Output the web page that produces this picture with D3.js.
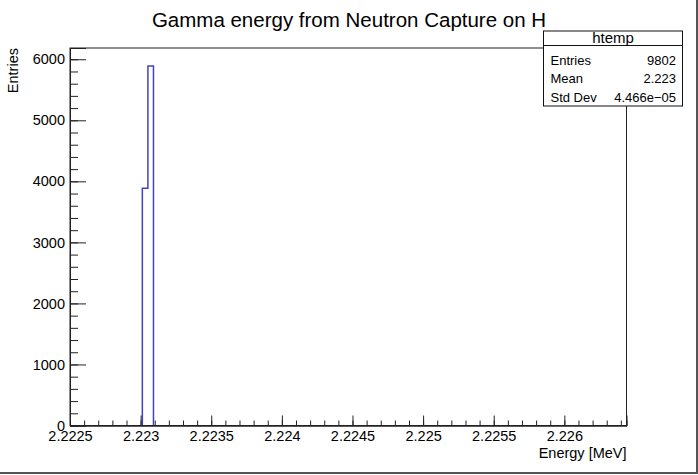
<!DOCTYPE html>
<html>
<head>
<meta charset="utf-8">
<script src="https://cdn.jsdelivr.net/npm/d3@7"></script>
<style>
  html, body { margin: 0; padding: 0; background: #fff; }
  svg { display: block; font-family: "Liberation Sans", Arial, Helvetica, sans-serif; }
</style>
</head>
<body>
<svg id="chart" width="698" height="475"></svg>
<script>
// ---- data ----
const title = "Gamma energy from Neutron Capture on H";
const xTitle = "Energy [MeV]";
const yTitle = "Entries";
const xRange = [2.2225, 2.22644];
const binWidth = 0.0000394;
const binLowEdges = [2.2230122, 2.2230516];
const binCounts = [3887, 5890];
const xTickValues = [2.2225, 2.223, 2.2235, 2.224, 2.2245, 2.225, 2.2255, 2.226];
const xTickLabels = ["2.2225", "2.223", "2.2235", "2.224", "2.2245", "2.225", "2.2255", "2.226"];
const yTickValues = [0, 1000, 2000, 3000, 4000, 5000, 6000];
const statsName = "htemp";
const statsLabels = ["Entries", "Mean", "Std Dev"];
const statsValues = ["9802", "2.223", "4.466e\u221205"];

// ---- layout ----
const svg = d3.select("#chart");
const W = 698, H = 475;
const frame = { left: 70, right: 626.5, top: 48, bottom: 425.5 };
const yMax = d3.max(binCounts) * 1.05;

const x = d3.scaleLinear().domain(xRange).range([frame.left, frame.right]);
const y = d3.scaleLinear().domain([0, yMax]).range([frame.bottom, frame.top]);

// histogram outline
const pts = [];
binLowEdges.forEach((lo, i) => {
  const hi = lo + binWidth;
  if (i === 0) pts.push([x(lo), y(0)]);
  pts.push([x(lo), y(binCounts[i])]);
  pts.push([x(hi), y(binCounts[i])]);
  if (i === binLowEdges.length - 1) pts.push([x(hi), y(0)]);
});
svg.append("path")
  .attr("d", d3.line()(pts))
  .attr("fill", "none")
  .attr("stroke", "#4343c2")
  .attr("stroke-width", 1.5);

// frame
svg.append("rect")
  .attr("x", frame.left).attr("y", frame.top)
  .attr("width", frame.right - frame.left).attr("height", frame.bottom - frame.top)
  .attr("fill", "none").attr("stroke", "#222").attr("stroke-width", 1);

// x axis
const xMinor = d3.range(0, 40).map(i => 2.2225 + i * 0.0001).filter(v => v <= xRange[1] + 1e-9);
const xAxisMinor = d3.axisTop(x).tickValues(xMinor).tickSize(5).tickFormat("");
const gxm = svg.append("g").attr("transform", `translate(0,${frame.bottom})`).call(xAxisMinor);
const xAxis = d3.axisTop(x).tickValues(xTickValues).tickSize(10).tickFormat((d, i) => xTickLabels[i]);
const gx = svg.append("g").attr("transform", `translate(0,${frame.bottom})`).call(xAxis);
[gxm, gx].forEach(g => {
  g.select(".domain").attr("stroke", "#222");
  g.selectAll(".tick line").attr("stroke", "#222");
});
gx.selectAll(".tick text")
  .attr("y", 14).attr("dy", "0")
  .attr("font-size", 14.5).attr("fill", "#000")
  .attr("font-family", "'Liberation Sans', Arial, sans-serif")
  .style("dominant-baseline", "auto")
  .attr("transform", "translate(0,0)")
  .each(function() { d3.select(this).attr("y", 15).attr("dy", "0.71em").attr("dy", "0"); })
  .attr("y", 15 + 0).attr("dominant-baseline", "hanging");

// y axis
const yMinor = d3.range(0, 31).map(i => i * 200).filter(v => v <= yMax);
const yAxisMinor = d3.axisRight(y).tickValues(yMinor).tickSize(8).tickFormat("");
const gym = svg.append("g").attr("transform", `translate(${frame.left},0)`).call(yAxisMinor);
const yAxis = d3.axisRight(y).tickValues(yTickValues).tickSize(16).tickFormat(d3.format("d"));
const gy = svg.append("g").attr("transform", `translate(${frame.left},0)`).call(yAxis);
[gym, gy].forEach(g => {
  g.select(".domain").attr("stroke", "#222");
  g.selectAll(".tick line").attr("stroke", "#222");
});
gy.selectAll(".tick text")
  .attr("x", -5).attr("text-anchor", "end")
  .attr("font-size", 14.5).attr("fill", "#000")
  .attr("font-family", "'Liberation Sans', Arial, sans-serif");

// titles
svg.append("text")
  .attr("x", W / 2).attr("y", 27)
  .attr("text-anchor", "middle")
  .attr("font-size", 20.5).attr("fill", "#000")
  .text(title);

svg.append("text")
  .attr("x", frame.right).attr("y", 458)
  .attr("text-anchor", "end")
  .attr("font-size", 14.5).attr("fill", "#000")
  .text(xTitle);

svg.append("text")
  .attr("transform", `translate(18,${frame.top}) rotate(-90)`)
  .attr("text-anchor", "end")
  .attr("font-size", 14.5).attr("fill", "#000")
  .text(yTitle);

// stats box
const sb = { left: 543.5, right: 682.5, top: 31, sep: 45.5, bottom: 106 };
svg.append("rect")
  .attr("x", sb.left).attr("y", sb.top)
  .attr("width", sb.right - sb.left).attr("height", sb.bottom - sb.top)
  .attr("fill", "#fff").attr("stroke", "#111").attr("stroke-width", 1);
svg.append("line")
  .attr("x1", sb.left).attr("x2", sb.right).attr("y1", sb.sep).attr("y2", sb.sep)
  .attr("stroke", "#111").attr("stroke-width", 1);
svg.append("text")
  .attr("x", (sb.left + sb.right) / 2).attr("y", 43)
  .attr("text-anchor", "middle").attr("font-size", 15).attr("fill", "#000")
  .text(statsName);
const rowY = [64.5, 83, 101.5];
statsLabels.forEach((lab, i) => {
  svg.append("text").attr("x", 550.5).attr("y", rowY[i])
    .attr("font-size", 13).attr("fill", "#000").text(lab);
  svg.append("text").attr("x", 676).attr("y", rowY[i])
    .attr("text-anchor", "end").attr("font-size", 13).attr("fill", "#000").text(statsValues[i]);
});

// canvas border (bottom / right)
svg.append("line").attr("x1", 0).attr("x2", W).attr("y1", 473).attr("y2", 473)
  .attr("stroke", "#555").attr("stroke-width", 2);
svg.append("line").attr("x1", 697).attr("x2", 697).attr("y1", 0).attr("y2", 474)
  .attr("stroke", "#555").attr("stroke-width", 2);
</script>
</body>
</html>
